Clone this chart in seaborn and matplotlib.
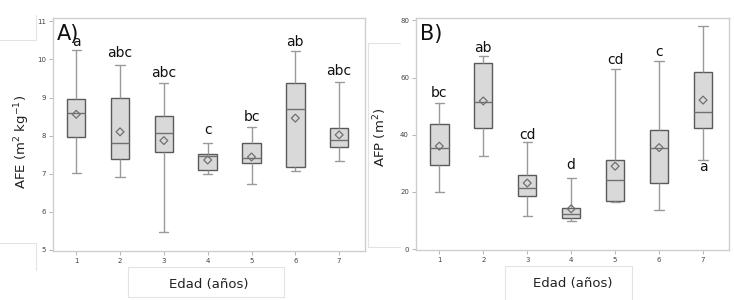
import numpy as np
import pandas as pd
import seaborn as sns
import matplotlib.pyplot as plt
from matplotlib.patches import Rectangle
from matplotlib.lines import Line2D

sns.set_theme(style="white")
plt.rcParams['font.family'] = ['DejaVu Sans']

edad = [1, 2, 3, 4, 5, 6, 7]

# AFE (m2 kg-1): min, Q1, median, Q3, max per age
afe_min = [7.03, 6.91, 5.46, 6.98, 6.73, 7.06, 7.33]
afe_q1 = [7.96, 7.38, 7.57, 7.09, 7.29, 7.18, 7.69]
afe_med = [8.60, 7.80, 8.08, 7.46, 7.40, 8.70, 7.88]
afe_q3 = [8.95, 8.98, 8.52, 7.52, 7.80, 9.37, 8.21]
afe_max = [10.25, 9.86, 9.38, 7.80, 8.23, 10.23, 9.41]
afe_mean = [8.56, 8.10, 7.87, 7.36, 7.44, 8.46, 8.02]
afe_letras = ["a", "abc", "abc", "c", "bc", "ab", "abc"]
afe_letra_y = [10.45, 10.16, 9.64, 8.15, 8.48, 10.47, 9.70]

# AFP (m2)
afp_min = [20.1, 32.5, 11.5, 9.7, 16.5, 13.8, 31.3]
afp_q1 = [29.3, 42.4, 18.5, 10.9, 17.0, 23.0, 42.3]
afp_med = [35.5, 51.4, 21.2, 12.3, 24.2, 35.5, 47.9]
afp_q3 = [43.7, 65.0, 26.0, 14.3, 31.2, 41.6, 61.9]
afp_max = [51.0, 67.6, 37.4, 24.8, 63.0, 65.7, 78.0]
afp_mean = [36.0, 51.8, 23.1, 14.1, 29.0, 35.5, 52.1]
afp_letras = ["bc", "ab", "cd", "d", "cd", "c", "a"]
afp_letra_y = [54.6, 70.3, 40.0, 29.3, 66.0, 69.0, 28.8]


def tabla(mn, q1, md, q3, mx):
    rows = []
    for e, vals in zip(edad, zip(mn, q1, md, q3, mx)):
        for v in vals:
            rows.append({"edad": e, "valor": v})
    return pd.DataFrame(rows)


fig = plt.figure(figsize=(7.34, 3.0), dpi=100)

# faint frame remnants of the original figure layout
deco = "#e3e3e3"
for (x0, y0, x1, y1) in [(0, 40, 36, 40), (36, 15, 36, 40), (0, 243, 36, 243),
                         (36, 243, 36, 270), (368, 43, 368, 247),
                         (368, 43, 400, 43), (368, 247, 400, 247)]:
    fig.add_artist(Line2D([x0 / 734, x1 / 734], [1 - y0 / 300, 1 - y1 / 300],
                          color=deco, lw=0.8))
for (x0, y0, x1, y1) in [(128, 267, 284, 297), (505, 266, 632, 301)]:
    fig.add_artist(Rectangle((x0 / 734, 1 - y1 / 300), (x1 - x0) / 734, (y1 - y0) / 300,
                             fill=False, edgecolor=deco, lw=0.8))

axA = fig.add_axes([53 / 734, 49 / 300, 312 / 734, 233 / 300])
axB = fig.add_axes([416 / 734, 50 / 300, 313 / 734, 232 / 300])

paneles = [
    (axA, tabla(afe_min, afe_q1, afe_med, afe_q3, afe_max), afe_mean, afe_letras, afe_letra_y,
     "AFE (m$^2$ kg$^{-1}$)", (4.97, 11.09), [5, 6, 7, 8, 9, 10, 11], "A)", (-0.068, 0.467)),
    (axB, tabla(afp_min, afp_q1, afp_med, afp_q3, afp_max), afp_mean, afp_letras, afp_letra_y,
     "AFP (m$^2$)", (-0.3, 80.8), [0, 20, 40, 60, 80], "B)", (-0.085, 0.487)),
]

for ax, df, medias, letras, letra_y, ylab, ylim, yticks, panel, lab_xy in paneles:
    sns.boxplot(data=df, x="edad", y="valor", native_scale=True, width=0.42,
                whis=(0, 100), color="#d9d9d9", linecolor="#5a5a5a", linewidth=1.0,
                showfliers=False, ax=ax,
                whiskerprops={"color": "#9a9a9a"}, capprops={"color": "#9a9a9a"},
                medianprops={"color": "#707070"})
    sns.scatterplot(x=edad, y=medias, marker="D", s=16, facecolor="none",
                    edgecolor="#707070", linewidth=0.9, ax=ax, zorder=5)
    for e, l, yy in zip(edad, letras, letra_y):
        ax.text(e, yy, l, ha="center", va="center", fontsize=10, color="#111111")
    ax.text(0.012, 0.975, panel, transform=ax.transAxes, ha="left", va="top",
            fontsize=15, color="#111111")
    ax.set_xlim(0.47, 7.59)
    ax.set_ylim(*ylim)
    ax.set_xticks(edad)
    ax.set_xticklabels([str(e) for e in edad])
    ax.set_yticks(yticks)
    ax.tick_params(axis="both", labelsize=5, colors="#444444", length=3, width=0.6,
                   pad=2, left=True, bottom=True)
    for t in ax.get_xticklabels() + ax.get_yticklabels():
        t.set_color("#444444")
    ax.tick_params(axis="both", color="#aaaaaa")
    for s in ax.spines.values():
        s.set_color("#cfcfcf")
        s.set_linewidth(1.0)
    ax.set_xlabel("Edad (años)", fontsize=9.5, color="#222222", labelpad=10)
    ax.set_ylabel(ylab, fontsize=9.5, color="#222222")
    ax.yaxis.set_label_coords(*lab_xy)

fig.savefig("out.png", dpi=100)
